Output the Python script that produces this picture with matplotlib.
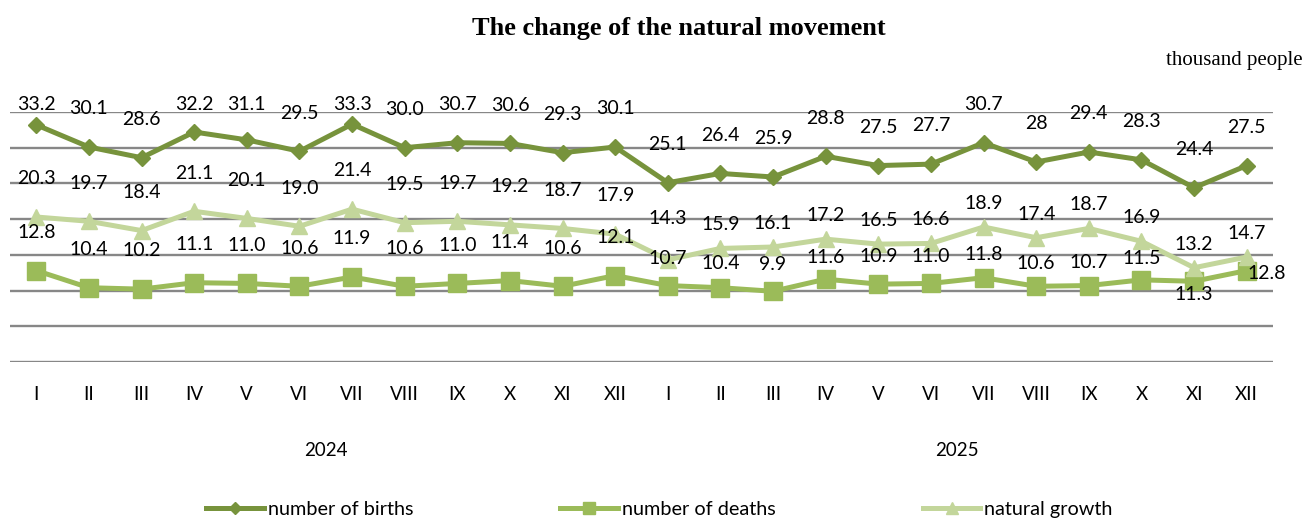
import matplotlib.pyplot as plt
from matplotlib.lines import Line2D
import matplotlib.transforms as mtransforms

months = ["I", "II", "III", "IV", "V", "VI", "VII", "VIII", "IX", "X", "XI", "XII"] * 2
years = ["2024", "2025"]

births = [33.2, 30.1, 28.6, 32.2, 31.1, 29.5, 33.3, 30.0, 30.7, 30.6, 29.3, 30.1,
          25.1, 26.4, 25.9, 28.8, 27.5, 27.7, 30.7, 28, 29.4, 28.3, 24.4, 27.5]
deaths = [12.8, 10.4, 10.2, 11.1, 11.0, 10.6, 11.9, 10.6, 11.0, 11.4, 10.6, 12.1,
          10.7, 10.4, 9.9, 11.6, 10.9, 11.0, 11.8, 10.6, 10.7, 11.5, 11.3, 12.8]
growth = [20.3, 19.7, 18.4, 21.1, 20.1, 19.0, 21.4, 19.5, 19.7, 19.2, 18.7, 17.9,
          14.3, 15.9, 16.1, 17.2, 16.5, 16.6, 18.9, 17.4, 18.7, 16.9, 13.2, 14.7]

c_births = "#77933C"
c_deaths = "#9BBB59"
c_growth = "#C3D69B"
font = "Lato"

# label offsets (data units) - roughly as placed in the original
births_dy = [5.35] * 24
growth_dy = [5.35] * 12 + [5.8] + [3.3] * 11
deaths_dy = [5.35] * 12 + [3.8, 3.4, 3.7, 3.0, 3.8, 3.7, 3.3, 3.2, 3.2, 3.0, -1.8, -0.4]
label_top = 36.1

fig = plt.figure(figsize=(13.06, 5.19), dpi=100)
ax = fig.add_axes([10 / 1306, 1 - 362 / 519, 1263 / 1306, 250 / 519])

x = list(range(len(months)))
ax.plot(x, births, color=c_births, lw=3.6, marker="D", ms=8, zorder=3)
ax.plot(x, deaths, color=c_deaths, lw=3.6, marker="s", ms=13, zorder=3)
ax.plot(x, growth, color=c_growth, lw=3.6, marker="^", ms=12, zorder=4)

for series, dys in [(births, births_dy), (growth, growth_dy), (deaths, deaths_dy)]:
    for i, (v, dy) in enumerate(zip(series, dys)):
        ty = min(v + dy, label_top)
        if series is deaths and i == len(series) - 1:
            ax.text(i + 0.02, ty, str(v), ha="left", va="center", fontsize=14,
                    family=font, zorder=6, clip_on=False)
        else:
            ax.text(i, ty, str(v), ha="center", va="center", fontsize=14,
                    family=font, zorder=6, clip_on=False)

ax.set_xlim(-0.5, len(months) - 0.5)
ax.set_ylim(0, 35)
ax.set_yticks(range(0, 36, 5))
ax.yaxis.grid(True, color="#878787", lw=1.7)
ax.set_axisbelow(True)
ax.tick_params(axis="y", left=False, labelleft=False)
ax.set_xticks(x)
ax.set_xticklabels(months, family=font, fontsize=13.5)
ax.tick_params(axis="x", length=0, pad=17)
for s in ax.spines.values():
    s.set_visible(False)

trans = mtransforms.blended_transform_factory(ax.transData, ax.transAxes)
for k, yr in enumerate(years):
    ax.text(5.5 + 12 * k, -0.356, yr, transform=trans, ha="center", va="center",
            family=font, fontsize=13.5)

fig.text(0.52, 0.945, "The change of the natural movement", ha="center", va="center",
         family="Liberation Serif", fontweight="bold", fontsize=19)
fig.text(0.9977, 0.884, "thousand people", ha="right", va="center",
         family="Liberation Serif", fontsize=15)

handles = [
    Line2D([], [], color=c_births, lw=3.6, marker="D", ms=6),
    Line2D([], [], color=c_deaths, lw=3.6, marker="s", ms=8),
    Line2D([], [], color=c_growth, lw=3.6, marker="^", ms=8),
]
fig.legend(handles, ["number of births", "number of deaths", "natural growth"],
           loc="center", bbox_to_anchor=(0.505, 0.018), ncol=3, frameon=False,
           prop={"family": font, "size": 14.3}, handlelength=2.9, handletextpad=0.2,
           columnspacing=7.4)

plt.savefig("out.png", dpi=100)
plt.close()
